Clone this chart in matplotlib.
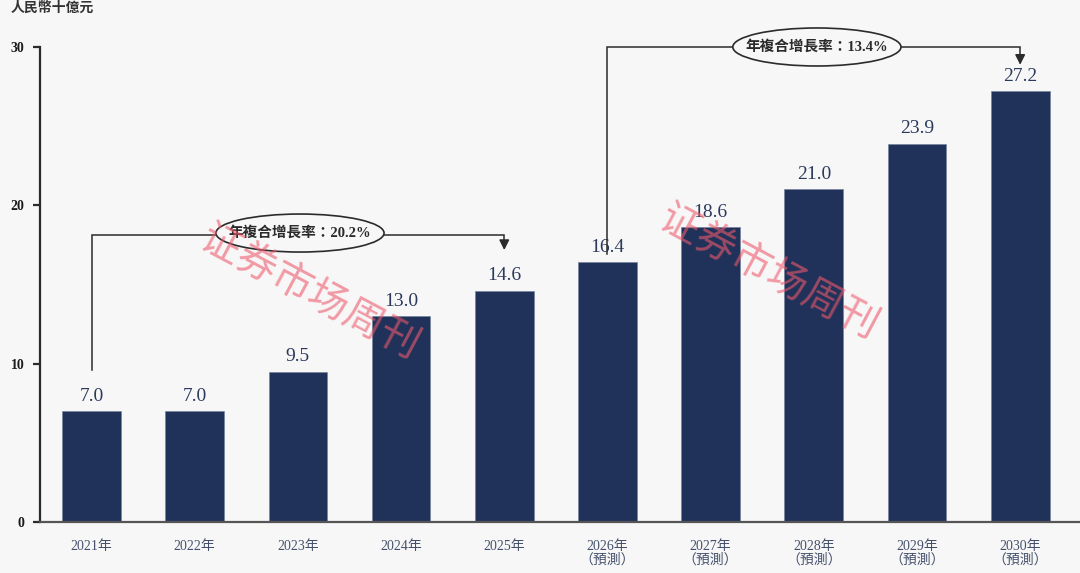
import matplotlib

matplotlib.use("Agg")
import matplotlib.pyplot as plt
from matplotlib.patches import Ellipse

years = ["2021年", "2022年", "2023年", "2024年", "2025年",
         "2026年\n（預測）", "2027年\n（預測）", "2028年\n（預測）",
         "2029年\n（預測）", "2030年\n（預測）"]
values = [7.0, 7.0, 9.5, 13.0, 14.6, 16.4, 18.6, 21.0, 23.9, 27.2]
y_ticks = [0, 10, 20, 30]
cagr_labels = ["年複合增長率：20.2%", "年複合增長率：13.4%"]
cagr_spans = [(0, 4), (5, 9)]
unit_label = "人民幣十億元"
watermark = "证券市场周刊"

FONT = ["Liberation Serif", "Noto Sans CJK TC", "DejaVu Sans"]
plt.rcParams["font.family"] = FONT

BG = "#f7f7f7"
BAR = "#21325a"
LINE = "#2b2b2b"

fig = plt.figure(figsize=(10.8, 5.73), dpi=100)
fig.patch.set_facecolor(BG)
ax = fig.add_axes([0.037, 0.089, 0.963, 0.829])
ax.set_facecolor(BG)

x = list(range(len(values)))
ax.bar(x, values, width=0.57, color=BAR, edgecolor="#6f7f9a", linewidth=0.4, zorder=2)
for xi, v in zip(x, values):
    ax.text(xi, v + 0.4, f"{v:.1f}", ha="center", va="bottom",
            fontsize=14, color="#2b3a5c")

ax.set_xlim(-0.5, 9.58)
ax.set_ylim(0, 30)
ax.set_yticks(y_ticks)
ax.set_yticklabels([str(t) for t in y_ticks], fontweight="bold", fontsize=10, color="#1a1a1a")
ax.set_xticks(x)
ax.set_xticklabels(years, fontsize=10, color="#44506b", linespacing=1.05)
ax.tick_params(axis="x", length=0, pad=13)
ax.tick_params(axis="y", length=5, width=1.6, color=LINE, pad=6, direction="out")
ax.spines[["top", "right"]].set_visible(False)
ax.spines["left"].set_linewidth(1.6)
ax.spines["left"].set_color(LINE)
ax.spines["bottom"].set_linewidth(1.6)
ax.spines["bottom"].set_color("#555555")

# CAGR brackets
brackets = [
    # left leg bottom, line height, arrow tip, ellipse centre x, ellipse centre y
    (9.6, 18.1, 17.0, 2.02, 18.25),
    (16.9, 30.0, 28.7, 7.03, 30.0),
]
for label, (s, e), (y0, yl, tip, ex, ey) in zip(cagr_labels, cagr_spans, brackets):
    ax.plot([s, s, e, e], [y0, yl, yl, tip + 0.6], color=LINE, lw=1.1,
            clip_on=False, zorder=3, solid_joinstyle="miter")
    ax.annotate("", xy=(e, tip), xytext=(e, tip + 0.7),
                arrowprops=dict(arrowstyle="-|>,head_width=0.3,head_length=0.6",
                                color=LINE, lw=1.1),
                annotation_clip=False, zorder=3)
    ax.add_patch(Ellipse((ex, ey), 1.63, 2.4, facecolor=BG, edgecolor=LINE,
                         lw=1.2, clip_on=False, zorder=4))
    ax.text(ex, ey, label, ha="center", va="center", fontsize=10.5,
            fontweight="bold", color="#2a2a2a", zorder=5)

fig.text(0.01, 0.985, unit_label, ha="left", va="center", fontsize=10,
         fontweight="bold", color="#333333")

# watermarks
for wx, wy in [(0.287, 0.49), (0.712, 0.525)]:
    fig.text(wx, wy, watermark, ha="center", va="center", fontsize=29,
             rotation=-28, color="#ee5a6c", alpha=0.6, zorder=10,
             family=["Noto Sans CJK SC"])

fig.savefig("out.png", dpi=100, facecolor=BG)
